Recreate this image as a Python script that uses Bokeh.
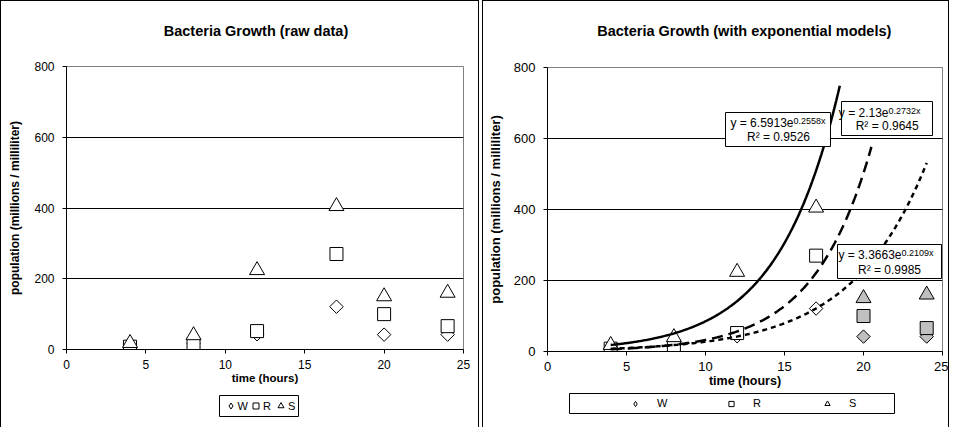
import numpy as np
from bokeh.plotting import figure
from bokeh.models import (Label, BoxAnnotation, Legend, LegendItem, FixedTicker, Range1d)
from bokeh.layouts import row, column
from bokeh.embed import file_html
from bokeh.resources import INLINE

# ---------------- data ----------------
time_h = [4, 8, 12, 17, 20, 24]
pop_W = [8, 18, 43, 121, 42, 42]
pop_R = [8, 15, 52, 270, 100, 66]
pop_S = [18, 40, 224, 405, 150, 160]
series_names = ["W", "R", "S"]
n_fit = 4  # first points used for the exponential models

# exponential models y = a * e^(b x), order W, R, S
model_a = [3.3663, 2.13, 6.5913]
model_a_txt = ["3.3663", "2.13", "6.5913"]
model_b = [0.2109, 0.2732, 0.2558]
model_r2 = ["0.9985", "0.9645", "0.9526"]
model_start = [4, 4, 4]
model_end = [24, 20.5, 18.5]

x_ticks = [0, 5, 10, 15, 20, 25]
y_ticks = [0, 200, 400, 600, 800]

title_left = "Bacteria Growth (raw data)"
title_right = "Bacteria Growth (with exponential models)"
x_label = "time (hours)"
y_label = "population (millions / milliliter)"

# ---------------- style / layout ----------------
FONT = "Liberation Sans"
XMAX, YMAX = 25, 800
markers = {"W": ("square", np.pi / 4, 9.5), "R": ("square", 0, 13), "S": ("triangle", 0, 15)}
legend_markers = {"W": "diamond", "R": "square", "S": "triangle"}
dashes = {"W": "5 4", "R": "11 6", "S": "solid"}
series_vals = {"W": pop_W, "R": pop_R, "S": pop_S}
GREY = "#c0c0c0"
BORDER = "1px solid #000"

# page-pixel geometry of the two chart frames (left, right, top, bottom)
FRAME_L = (66, 463, 67, 350)
FRAME_R = (549, 944, 68, 352)
TITLE_H = 50      # strip holding the title (page y 1..50)
LEGEND_TOP = 393  # strip holding the legend (page y 393..428)
PAGE_H = 428


def to_data(ref, px, py):
    xl, xr, yt, yb = ref
    return (px - xl) / (xr - xl) * XMAX, (yb - py) / (yb - yt) * YMAX


def make_fig(width, height, mbl, mbr, mbt, mbb, tick_fs, xlab_fs, ylab_fs, ylab_standoff):
    p = figure(width=width, height=height, x_range=Range1d(0, XMAX), y_range=Range1d(0, YMAX),
               output_backend="svg", toolbar_location=None, title=None,
               min_border_left=mbl, min_border_right=mbr, min_border_top=mbt, min_border_bottom=mbb,
               background_fill_color="white", border_fill_color="white",
               styles={"border-left": BORDER, "border-right": BORDER})
    p.outline_line_color = "#808080"
    p.xaxis.ticker = FixedTicker(ticks=x_ticks)
    p.yaxis.ticker = FixedTicker(ticks=y_ticks)
    for ax in (p.xaxis[0], p.yaxis[0]):
        ax.major_tick_in = 0
        ax.major_tick_out = 4
        ax.minor_tick_in = 0
        ax.minor_tick_out = 0
        ax.axis_line_color = "black"
        ax.major_tick_line_color = "black"
        ax.major_label_text_font = FONT
        ax.major_label_text_font_size = f"{tick_fs}px"
        ax.major_label_text_color = "black"
        ax.axis_label_text_font = FONT
        ax.axis_label_text_font_style = "bold"
        ax.axis_label_text_color = "black"
    p.xaxis.axis_label = x_label
    p.yaxis.axis_label = y_label
    p.xaxis.axis_label_text_font_size = f"{xlab_fs}px"
    p.yaxis.axis_label_text_font_size = f"{ylab_fs}px"
    p.xaxis.major_label_standoff = 6
    p.yaxis.major_label_standoff = 8
    p.xaxis.axis_label_standoff = 0
    p.yaxis.axis_label_standoff = ylab_standoff
    p.xgrid.visible = False
    p.ygrid.ticker = FixedTicker(ticks=[t for t in y_ticks if 0 < t < YMAX])
    p.ygrid.grid_line_color = "black"
    return p


def make_strip(width, height, mbl, mbr, frame, page_top, page_bottom, styles):
    """A plain strip whose frame lines up with the chart frame; data units = page pixels."""
    f = figure(width=width, height=height, x_range=Range1d(frame[0], frame[1]),
               y_range=Range1d(page_bottom, page_top), output_backend="svg",
               toolbar_location=None, title=None, min_border=0,
               min_border_left=mbl, min_border_right=mbr,
               x_axis_location=None, y_axis_location=None,
               background_fill_color="white", border_fill_color="white", styles=styles)
    f.outline_line_color = None
    f.xgrid.visible = False
    f.ygrid.visible = False
    return f


def title_strip(width, mbl, mbr, frame, text, cx, cy):
    t = make_strip(width, TITLE_H, mbl, mbr, frame, 1, 1 + TITLE_H,
                   {"border-top": BORDER, "border-left": BORDER, "border-right": BORDER})
    t.add_layout(Label(x=cx, y=cy, text=text, text_font=FONT, text_font_size="14.5px",
                       text_font_style="bold", text_align="center", text_baseline="middle",
                       text_color="black"))
    return t


def legend_strip(width, mbl, mbr, frame, box, loc, glyph_w, glyph_h, spacing, label_w, label_h):
    lf = make_strip(width, PAGE_H - LEGEND_TOP, mbl, mbr, frame, LEGEND_TOP, PAGE_H,
                    {"border-left": BORDER, "border-right": BORDER})
    items = []
    for name in series_names:
        # the series' own values lie outside this strip's ranges, so only the legend glyph shows
        r = lf.scatter(time_h, series_vals[name], marker=legend_markers[name], size=8,
                       fill_color="white", line_color="black", line_width=1)
        items.append(LegendItem(label=name, renderers=[r]))
    bl, br, bt, bb = box
    lf.add_layout(BoxAnnotation(left=bl, right=br, bottom=bb, top=bt, fill_alpha=0,
                                line_color="black", line_width=1, line_alpha=1))
    lf.add_layout(Legend(items=items, orientation="horizontal", location=loc,
                         glyph_width=glyph_w, glyph_height=glyph_h, label_standoff=0,
                         spacing=spacing, padding=0, margin=0, label_width=label_w,
                         label_height=label_h, border_line_color=None,
                         background_fill_alpha=0, label_text_font=FONT,
                         label_text_font_size="11px", label_text_color="black"))
    return lf


# ---------------- left chart ----------------
W1, MBL1, MBR1 = 479, 65, 17
t1 = title_strip(W1, MBL1, MBR1, FRAME_L, title_left, 255.5, 30)
p1 = make_fig(W1, LEGEND_TOP - TITLE_H - 1, MBL1, MBR1, FRAME_L[2] - TITLE_H - 1,
              LEGEND_TOP - FRAME_L[3], 12, 11.5, 12, 9)
for name in series_names:
    m, ang, sz = markers[name]
    p1.scatter(time_h, series_vals[name], marker=m, angle=ang, size=sz, fill_color="white",
               line_color="black", line_width=1)
l1 = legend_strip(W1, MBL1, MBR1, FRAME_L, box=(219, 298, 396, 417),
                  loc=(222.5 - FRAME_L[0], PAGE_H - 414),
                  glyph_w=15, glyph_h=15, spacing=0, label_w=10, label_h=15)

# ---------------- right chart ----------------
W2, MBL2, MBR2 = 467, 64, 8
t2 = title_strip(W2, MBL2, MBR2, FRAME_R, title_right, 745.8, 30)
p2 = make_fig(W2, LEGEND_TOP - TITLE_H - 1, MBL2, MBR2, FRAME_R[2] - TITLE_H - 1,
              LEGEND_TOP - FRAME_R[3], 13, 12.5, 13, 8)
for name in series_names:
    m, ang, sz = markers[name]
    ys = series_vals[name]
    p2.scatter(time_h[:n_fit], ys[:n_fit], marker=m, angle=ang, size=sz, fill_color="white",
               line_color="black", line_width=1)
    p2.scatter(time_h[n_fit:], ys[n_fit:], marker=m, angle=ang, size=sz, fill_color=GREY,
               line_color="black", line_width=1)

for i, name in enumerate(series_names):
    xs = np.linspace(model_start[i], model_end[i], 200)
    ys = model_a[i] * np.exp(model_b[i] * xs)
    p2.line(xs, ys, line_color="black", line_width=2.5, line_dash=dashes[name])

eq_layout = {
    "S": dict(box=(727, 832, 113, 147), junction=(795, 123.3), r2=(780, 137.7)),
    "R": dict(box=(843, 934, 102, 136), junction=(890, 113.3), r2=(888.7, 126.7)),
    "W": dict(box=(839, 943, 245, 279), junction=(903, 255.7), r2=(891, 270)),
}
for i, name in enumerate(series_names):
    lay = eq_layout[name]
    bl, br, bt, bb = lay["box"]
    x0, y0 = to_data(FRAME_R, bl, bb)
    x1, y1 = to_data(FRAME_R, br, bt)
    p2.add_layout(BoxAnnotation(left=x0, right=x1, bottom=y0, top=y1, fill_color="white",
                                fill_alpha=1, line_color="black", line_width=1, line_alpha=1))
    jx, jy = to_data(FRAME_R, *lay["junction"])
    ex, ey = to_data(FRAME_R, lay["junction"][0], lay["junction"][1] - 2)
    rx, ry = to_data(FRAME_R, *lay["r2"])
    p2.add_layout(Label(x=jx, y=jy, text=f"y = {model_a_txt[i]}e", text_font=FONT,
                        text_font_size="12px", text_align="right", text_baseline="middle",
                        text_color="black"))
    p2.add_layout(Label(x=ex, y=ey, text=f"{model_b[i]}x", text_font=FONT,
                        text_font_size="9px", text_align="left", text_baseline="middle",
                        text_color="black"))
    p2.add_layout(Label(x=rx, y=ry, text=f"R\u00b2 = {model_r2[i]}", text_font=FONT,
                        text_font_size="12px", text_align="center", text_baseline="middle",
                        text_color="black"))

l2 = legend_strip(W2, MBL2, MBR2, FRAME_R, box=(571, 896, 394, 414),
                  loc=(615 - FRAME_R[0], PAGE_H - 411),
                  glyph_w=44, glyph_h=13, spacing=12, label_w=40, label_h=14)

layout = row(column(t1, p1, l1, spacing=0), column(t2, p2, l2, spacing=0), spacing=3)
open("out.html", "w").write(file_html(layout, INLINE))
